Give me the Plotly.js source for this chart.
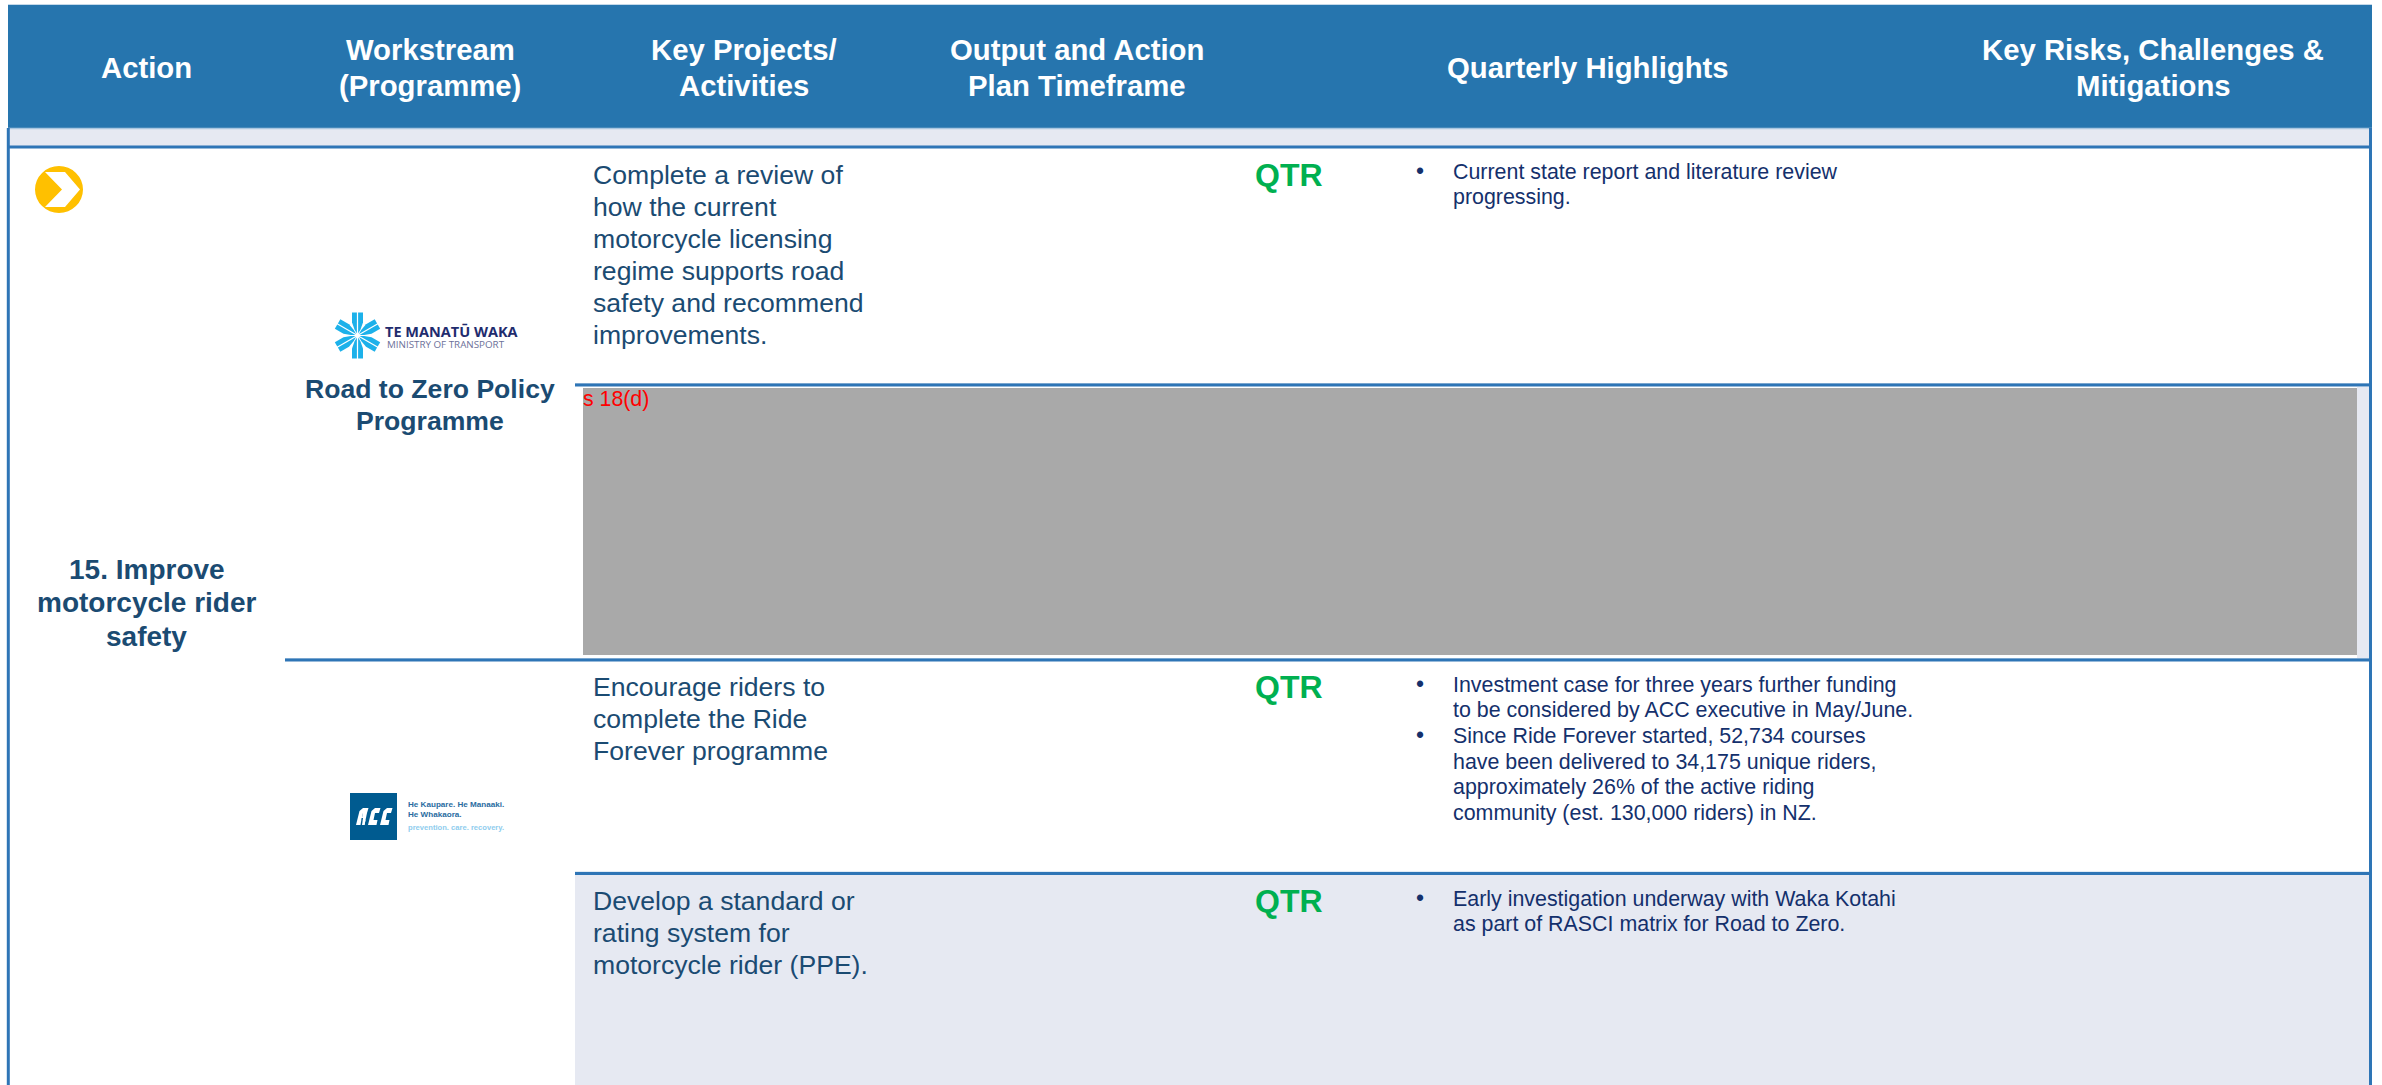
<!DOCTYPE html>
<html><head><meta charset="utf-8">
<script src="https://cdn.plot.ly/plotly-3.0.1.min.js"></script>
<style>html,body{margin:0;padding:0;background:#fff}#c{width:2382px;height:1085px}</style>
</head><body><div id="c"></div>
<script>
const headers = [["Action"],["Workstream","(Programme)"],["Key Projects/","Activities"],["Output and Action","Plan Timeframe"],["Quarterly Highlights"],["Key Risks, Challenges &","Mitigations"]];
const actionLines = ["15. Improve","motorcycle rider","safety"];
const workstreamLines = ["Road to Zero Policy","Programme"];
const project1 = ["Complete a review of","how the current","motorcycle licensing","regime supports road","safety and recommend","improvements."];
const project2 = ["Encourage riders to","complete the Ride","Forever programme"];
const project3 = ["Develop a standard or","rating system for","motorcycle rider (PPE)."];
const quarterLabel = "QTR";
const highlights1 = [["Current state report and literature review","progressing."]];
const highlights2 = [["Investment case for three years further funding","to be considered by ACC executive in May/June."],["Since Ride Forever started, 52,734 courses","have been delivered to 34,175 unique riders,","approximately 26% of the active riding","community (est. 130,000 riders) in NZ."]];
const highlights3 = [["Early investigation underway with Waka Kotahi","as part of RASCI matrix for Road to Zero."]];
const redaction = "s 18(d)";
const logoMoT = ["TE MANATŪ WAKA","MINISTRY OF TRANSPORT"];
const logoACC = ["He Kaupare. He Manaaki.","He Whakaora.","prevention. care. recovery."];

const FONT='"Liberation Sans", Arial, sans-serif';
const BLUE='#2675ae', LINE='#2e75b6', LIGHT='#e6e9f2', DARK='#1b4b72', NAVY='#14306c', GREEN='#00b050', PALE='#c4d9ea';
const anns=[], shapes=[];
function txt(x,y,text,size,color,opts){anns.push(Object.assign({x,y,text,xref:'x',yref:'y',showarrow:false,xanchor:'center',yanchor:'middle',borderpad:0,borderwidth:0,font:{family:FONT,size,color}},opts||{}));}
function rect(x0,y0,x1,y1,fill){shapes.push({type:'rect',xref:'x',yref:'y',x0,y0,x1,y1,fillcolor:fill,line:{width:0},layer:'below'});}
function hl(x0,x1,y,w,c){shapes.push({type:'line',xref:'x',yref:'y',x0,x1,y0:y,y1:y,line:{color:c||LINE,width:w},layer:'below'});}
function vl(x,y0,y1,w,c){shapes.push({type:'line',xref:'x',yref:'y',x0:x,x1:x,y0,y1,line:{color:c||LINE,width:w},layer:'below'});}
function poly(pts,fill){shapes.push({type:'path',xref:'x',yref:'y',path:'M'+pts.map(p=>p.join(',')).join('L')+'Z',fillcolor:fill,line:{width:0},layer:'below'});}

// header
hl(8,2372,4.5,1,PALE);
rect(8,5,2372,128,BLUE);
rect(9,129,2370,146,LIGHT);
hl(8,2372,128.5,1.5,'#a9c6e0');
// light bands
rect(2357,387,2370,658,LIGHT);
rect(575,875,2370,1085,LIGHT);
rect(583,388,2357,655,'#a9a9a9');
// rules
hl(8,2372,147,3);
[[575,383.5],[285,658.5],[575,872]].forEach(r=>hl(r[0],2370,r[1],1,PALE));
hl(575,2371,385,3);
hl(285,2371,660,3);
hl(575,2371,873.5,3);
vl(8.3,128,1085,3);
vl(2370.5,128,1085,3);

// header text
const headX=[146,430,744,1077,1588,2153];
headers.forEach((h,i)=>{
  const ys=h.length===1?[67.5]:[49.5,85.5];
  h.forEach((t,j)=>txt(headX[i],ys[j],t,29.3,'#ffffff',{font:{family:FONT,size:29.3,color:'#ffffff',weight:700}}));
});
function bold(x,y,t,s,c,o){txt(x,y,t,s,c,Object.assign({font:{family:FONT,size:s,color:c,weight:700}},o||{}));}
actionLines.forEach((t,i)=>bold(146.5,569.5+i*33.3,t,28,DARK));
workstreamLines.forEach((t,i)=>bold(430,389+i*32,t,26.6,DARK));

function col(lines,y0){lines.forEach((t,i)=>txt(593,y0+i*32,t,26.6,DARK,{xanchor:'left'}));}
col(project1,174.5);col(project2,687);col(project3,901);

[175,687,901].forEach(y=>bold(1255,y,quarterLabel,32,GREEN,{xanchor:'left'}));

function bullets(groups,y0){let y=y0;groups.forEach(g=>{txt(1420,y-1,'•',23,NAVY);g.forEach(t=>{txt(1453,y,t,21.4,NAVY,{xanchor:'left'});y+=25.7;});});}
bullets(highlights1,171.5);bullets(highlights2,684.5);bullets(highlights3,898.5);

txt(583,398.5,redaction,21.3,'#ff0000',{xanchor:'left'});

// chevron badge
shapes.push({type:'circle',xref:'x',yref:'y',x0:35,x1:83,y0:166,y1:213,fillcolor:'#ffc000',line:{width:0},layer:'below'});
poly([[45,172],[65,172],[80,189.5],[65,207],[45,207],[62,189.5]],'#ffffff');

// Ministry of Transport mark
const cx=357.5,cy=335.5;
for(let k=0;k<6;k++){
  const a=Math.PI/2+k*Math.PI/3, c=Math.cos(a), s=Math.sin(a);
  const P=(r,w)=>[cx+r*c-w*s,cy+r*s+w*c];
  [1,-1].forEach(d=>{
    poly([P(2,d*.6),P(23,d*.6),P(23,d*5.5),P(13,d*5.5),P(6,d*3)],'#1cb1ea');
  });
}
txt(385,331,logoMoT[0],14.5,'#1f2c6e',{xanchor:'left',font:{family:'"Open Sans", sans-serif',size:14.5,color:'#1f2c6e',weight:700}});
txt(387,344,logoMoT[1],9.8,'#6d7199',{xanchor:'left',font:{family:'"Open Sans", sans-serif',size:9.8,color:'#6d7199'}});

// ACC mark
rect(350,793,397,840,'#005b90');
[356,368,380].forEach((x0,i)=>{
  poly([[x0,825],[x0+3.5,811],[x0+7,808],[x0+12.5,808],[x0+11,813],[x0+7,813],[x0+5.5,820],[x0+9.5,820],[x0+8.5,825]],'#ffffff');
  if(i===0) poly([[x0+7,813],[x0+11,813],[x0+8.5,825],[x0+5,825],[x0+5.5,820]],'#ffffff');
  if(i===0) poly([[x0+4.5,825],[x0+5.7,818],[x0+7,818],[x0+6,825]],'#005b90');
});
txt(408,804,logoACC[0],8.1,'#2a6c9f',{xanchor:'left',font:{family:FONT,size:8.1,color:'#2a6c9f',weight:700}});
txt(408,814,logoACC[1],8.1,'#2a6c9f',{xanchor:'left',font:{family:FONT,size:8.1,color:'#2a6c9f',weight:700}});
txt(408,827,logoACC[2],7.6,'#8fcdee',{xanchor:'left',font:{family:FONT,size:7.6,color:'#8fcdee',weight:700}});

Plotly.newPlot('c',[],{
  width:2382,height:1085,margin:{l:0,r:0,t:0,b:0},
  paper_bgcolor:'#ffffff',plot_bgcolor:'#ffffff',showlegend:false,
  xaxis:{range:[0,2382],visible:false,fixedrange:true},
  yaxis:{range:[1085,0],visible:false,fixedrange:true},
  shapes,annotations:anns
},{displayModeBar:false,staticPlot:true});
</script></body></html>
